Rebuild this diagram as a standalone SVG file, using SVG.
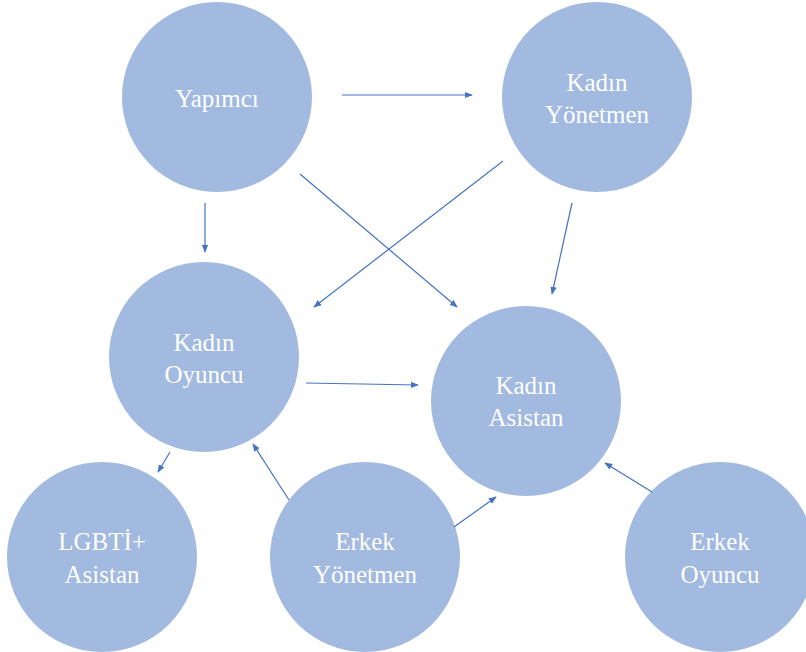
<svg xmlns="http://www.w3.org/2000/svg" width="806" height="652" viewBox="0 0 806 652">
<defs>
<style>
.n{fill:#A2B9E0}
.t{fill:#fff;font-family:"Liberation Serif","Times New Roman",serif;font-size:25px;text-anchor:middle}
.c{stroke:#4472C4;stroke-width:1.2;fill:none;marker-end:url(#ah)}
</style>
<marker id="ah" viewBox="0 0 10 10" refX="9" refY="5" markerWidth="8" markerHeight="8" orient="auto" markerUnits="userSpaceOnUse">
<path d="M0,1 L10,5 L0,9 Z" fill="#4472C4"/>
</marker>
</defs>
<rect width="806" height="652" fill="#fff"/>
<g id="yapimci"><circle class="n" cx="217" cy="97" r="95"/><text class="t" x="217" y="107">Yapımcı</text></g>
<g id="kadin-yonetmen"><circle class="n" cx="597" cy="97" r="95"/><text class="t" x="597" y="91">Kadın</text><text class="t" x="597" y="123">Yönetmen</text></g>
<g id="kadin-oyuncu"><circle class="n" cx="204" cy="357" r="95"/><text class="t" x="204" y="351">Kadın</text><text class="t" x="204" y="383">Oyuncu</text></g>
<g id="kadin-asistan"><circle class="n" cx="526" cy="401" r="95"/><text class="t" x="526" y="394">Kadın</text><text class="t" x="526" y="426">Asistan</text></g>
<g id="lgbti-asistan"><circle class="n" cx="102" cy="557" r="95"/><text class="t" x="102" y="550">LGBTİ+</text><text class="t" x="102" y="583">Asistan</text></g>
<g id="erkek-yonetmen"><circle class="n" cx="365" cy="557" r="95"/><text class="t" x="365" y="550">Erkek</text><text class="t" x="365" y="583">Yönetmen</text></g>
<g id="erkek-oyuncu"><circle class="n" cx="720" cy="557" r="95"/><text class="t" x="720" y="550">Erkek</text><text class="t" x="720" y="583">Oyuncu</text></g>
<g id="connectors">
<line class="c" x1="342" y1="95" x2="472" y2="95"/>
<line class="c" x1="205" y1="203" x2="205" y2="252"/>
<line class="c" x1="300" y1="174" x2="457" y2="307"/>
<line class="c" x1="503" y1="161" x2="314" y2="307"/>
<line class="c" x1="572" y1="203" x2="552" y2="294"/>
<line class="c" x1="306" y1="383" x2="418" y2="385"/>
<line class="c" x1="170" y1="452" x2="158" y2="472"/>
<line class="c" x1="289" y1="500" x2="253" y2="444"/>
<line class="c" x1="454" y1="527" x2="496" y2="497"/>
<line class="c" x1="652" y1="492" x2="605" y2="463"/>
</g>
</svg>
